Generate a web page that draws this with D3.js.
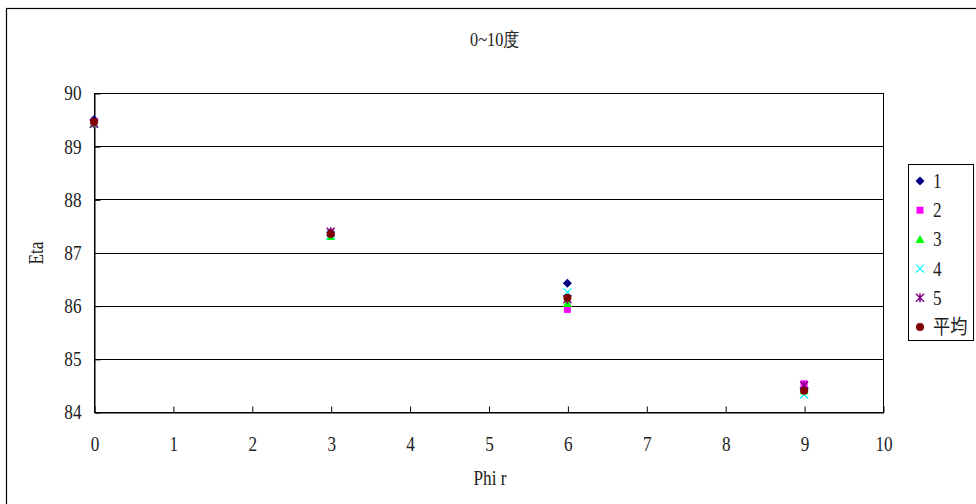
<!DOCTYPE html>
<html>
<head>
<meta charset="utf-8">
<script src="https://cdn.jsdelivr.net/npm/d3@7"></script>
<style>
  html, body { margin: 0; padding: 0; background: #fff; }
  svg { display: block; }
  text { fill: #222; }
</style>
</head>
<body>
<svg id="chart" width="976" height="504"></svg>
<script>
// Phi r positions and Eta readings for each run
const phiValues = [0, 3, 6, 9];
const run1 = [89.50, 87.38, 86.42, 84.45];
const run2 = [89.46, 87.36, 85.93, 84.53];
const run3 = [89.42, 87.30, 86.04, 84.40];
const run4 = [89.42, 87.33, 86.25, 84.33];
const run5 = [89.42, 87.39, 86.12, 84.50];
const runAvg = [89.46, 87.35, 86.15, 84.40];

const seriesNames = ["1", "2", "3", "4", "5", "平均"];
const seriesColors = ["#000080", "#ff00ff", "#00ff00", "#00ffff", "#800080", "#800000"];
const seriesShapes = ["diamond", "square", "triangle", "cross", "star", "circle"];
const seriesValues = [run1, run2, run3, run4, run5, runAvg];

const xTicks = [0, 1, 2, 3, 4, 5, 6, 7, 8, 9, 10];
const yTicks = [84, 85, 86, 87, 88, 89, 90];

const SERIF = "'Liberation Serif', 'DejaVu Serif', serif";
const NARROW = 0.86; // horizontal squeeze for the tall, narrow lettering
const svg = d3.select("#chart");

// outer chart frame
svg.append("rect")
  .attr("x", 6.5).attr("y", 8.5)
  .attr("width", 980).attr("height", 510)
  .attr("fill", "none").attr("stroke", "#000").attr("stroke-width", 1.2);

const plot = { left: 94, right: 883, top: 93, bottom: 412 };
const x = d3.scaleLinear().domain([0, 10]).range([plot.left, plot.right]);
const y = d3.scaleLinear().domain([84, 90]).range([plot.bottom, plot.top]);

// horizontal gridlines
svg.append("g").selectAll("line")
  .data(yTicks)
  .join("line")
  .attr("x1", plot.left).attr("x2", plot.right)
  .attr("y1", d => Math.round(y(d)) + 0.5).attr("y2", d => Math.round(y(d)) + 0.5)
  .attr("stroke", "#000").attr("stroke-width", 1);

// plot area border
svg.append("rect")
  .attr("x", plot.left + 0.5).attr("y", plot.top + 0.5)
  .attr("width", plot.right - plot.left).attr("height", plot.bottom - plot.top)
  .attr("fill", "none").attr("stroke", "#000").attr("stroke-width", 1);

// axes with inward tick marks
const xAxis = svg.append("g")
  .attr("transform", `translate(0.5,${plot.bottom + 0.5})`)
  .call(d3.axisBottom(x).tickValues(xTicks).tickFormat(d3.format("d"))
    .tickSize(-6).tickSizeOuter(0).tickPadding(24));
const yAxis = svg.append("g")
  .attr("transform", `translate(${plot.left + 0.5},0.5)`)
  .call(d3.axisLeft(y).tickValues(yTicks).tickFormat(d3.format("d"))
    .tickSize(-6).tickSizeOuter(0).tickPadding(0));

[xAxis, yAxis].forEach(g => {
  g.attr("font-family", SERIF).attr("font-size", 20);
  g.select(".domain").attr("stroke", "#000");
  g.selectAll(".tick line").attr("stroke", "#000");
  g.selectAll(".tick text").attr("fill", "#222");
});
xAxis.selectAll(".tick text").attr("transform", `scale(${NARROW},1)`);
yAxis.selectAll(".tick text")
  .attr("x", -13 / NARROW)
  .attr("transform", `scale(${NARROW},1)`);

// titles
function squeezed(px, py, size, str, rot) {
  return svg.append("g")
    .attr("transform", `translate(${px},${py})` + (rot ? ` rotate(${rot})` : ""))
    .append("text")
    .attr("transform", `scale(${NARROW},1)`)
    .attr("text-anchor", "middle").attr("font-size", size)
    .attr("font-family", SERIF)
    .text(str);
}
squeezed(495, 46, 19, "0~10度");
squeezed(43, 253, 20, "Eta", -90);
squeezed(490, 485, 20, "Phi r");

// marker drawing
function marker(g, shape, color) {
  if (shape === "diamond") {
    g.append("path").attr("d", "M0,-4.5L4.5,0L0,4.5L-4.5,0Z").attr("fill", color);
  } else if (shape === "square") {
    g.append("rect").attr("x", -3.5).attr("y", -3.5).attr("width", 7).attr("height", 7).attr("fill", color);
  } else if (shape === "triangle") {
    g.append("path").attr("d", "M0,-4.5L4.5,3.5L-4.5,3.5Z").attr("fill", color);
  } else if (shape === "cross") {
    g.append("path").attr("d", "M-4,-4L4,4M-4,4L4,-4").attr("stroke", color).attr("stroke-width", 1.3).attr("fill", "none");
  } else if (shape === "star") {
    g.append("path").attr("d", "M-4,-4L4,4M-4,4L4,-4M0,-4.5L0,4.5").attr("stroke", color).attr("stroke-width", 1.5).attr("fill", "none");
  } else {
    g.append("circle").attr("r", 4).attr("fill", color);
  }
}

// data points, one group per series
seriesValues.forEach((vals, si) => {
  const g = svg.append("g");
  g.selectAll("g")
    .data(vals.map((v, i) => ({ x: phiValues[i], y: v })))
    .join("g")
    .attr("transform", d => `translate(${x(d.x)},${y(d.y)})`)
    .each(function () { marker(d3.select(this), seriesShapes[si], seriesColors[si]); });
});

// legend
const legend = svg.append("g");
legend.append("rect")
  .attr("x", 908.5).attr("y", 164.5).attr("width", 65).attr("height", 176)
  .attr("fill", "#fff").attr("stroke", "#000").attr("stroke-width", 1);
seriesNames.forEach((name, i) => {
  const cy = 181 + i * 29.2;
  const g = legend.append("g").attr("transform", `translate(920,${cy})`);
  marker(g, seriesShapes[i], seriesColors[i]);
  legend.append("g")
    .attr("transform", `translate(933,${cy + 7})`)
    .append("text")
    .attr("transform", `scale(${NARROW},1)`)
    .attr("font-size", 20)
    .attr("font-family", i === 5 ? "'Noto Sans CJK TC', serif" : SERIF)
    .text(name);
});
</script>
</body>
</html>
